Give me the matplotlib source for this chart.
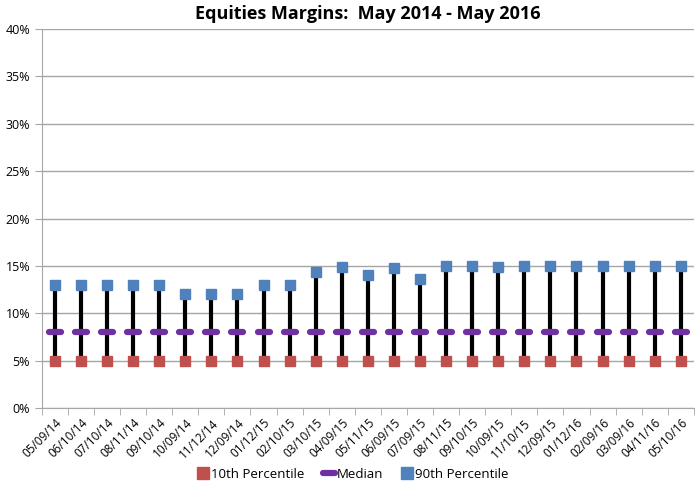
import matplotlib
matplotlib.use("Agg")
import matplotlib.pyplot as plt
from matplotlib.lines import Line2D
from matplotlib.markers import MarkerStyle
from matplotlib.ticker import FuncFormatter, MultipleLocator, FixedLocator
import numpy as np

# dates of the margin observations
dates = ["05/09/14", "06/10/14", "07/10/14", "08/11/14", "09/10/14", "10/09/14",
         "11/12/14", "12/09/14", "01/12/15", "02/10/15", "03/10/15", "04/09/15",
         "05/11/15", "06/09/15", "07/09/15", "08/11/15", "09/10/15", "10/09/15",
         "11/10/15", "12/09/15", "01/12/16", "02/09/16", "03/09/16", "04/11/16",
         "05/10/16"]
p10 = [5] * 25
median = [8] * 25
p90 = [13, 13, 13, 13, 13, 12, 12, 12, 13, 13, 14.4, 14.9, 14.0, 14.8, 13.6,
       15, 15, 14.9, 15, 15, 15, 15, 15, 15, 15]

plt.rcParams['font.family'] = ['Open Sans', 'DejaVu Sans']

fig = plt.figure(figsize=(6.98, 4.90), dpi=100)
ax = fig.add_axes([0.060, 0.167, 0.934, 0.774])

dash = MarkerStyle("_", capstyle="round")

x = np.arange(len(dates))
ax.vlines(x, p10, p90, color="black", lw=3, zorder=2)
ax.plot(x, p10, ls="none", marker="s", ms=7.5, color="#c0504d", zorder=3)
ax.plot(x, median, ls="none", marker=dash, ms=8, mew=4.5, color="#7030a0", zorder=3)
ax.plot(x, p90, ls="none", marker="s", ms=7.5, color="#4f81bd", zorder=3)

ax.set_xlim(-0.5, len(dates) - 0.5)
ax.set_ylim(0, 40)
ax.yaxis.set_major_locator(MultipleLocator(5))
ax.yaxis.set_major_formatter(FuncFormatter(lambda v, p: f"{v:.0f}%"))
ax.grid(axis="y", color="#a6a6a6", lw=1)
ax.set_axisbelow(True)

ax.set_xticks(x)
ax.set_xticklabels(dates, rotation=45, ha="right", rotation_mode="anchor", fontsize=8.5)
ax.tick_params(axis="x", length=0, pad=6)
ax.xaxis.set_minor_locator(FixedLocator(np.arange(-0.5, len(dates), 1)))
ax.tick_params(axis="x", which="minor", length=5, color="#a6a6a6")
ax.tick_params(axis="y", length=5, color="#a6a6a6", labelsize=9, direction="out")

for s in ["top", "right"]:
    ax.spines[s].set_visible(False)
for s in ["left", "bottom"]:
    ax.spines[s].set_color("#a6a6a6")

ax.set_title("Equities Margins:  May 2014 - May 2016", fontsize=13, fontweight="bold", pad=7)

handles = [
    Line2D([], [], ls="none", marker="s", ms=8, color="#c0504d"),
    Line2D([], [], ls="none", marker=dash, ms=8, mew=4.5, color="#7030a0"),
    Line2D([], [], ls="none", marker="s", ms=8, color="#4f81bd"),
]
fig.legend(handles, ["10th Percentile", "Median", "90th Percentile"], loc="lower center",
           bbox_to_anchor=(0.505, -0.005), ncol=3, frameon=False, fontsize=9.5,
           handletextpad=0.1, columnspacing=1.3, handlelength=1.0)

fig.savefig("out.png", dpi=100)
